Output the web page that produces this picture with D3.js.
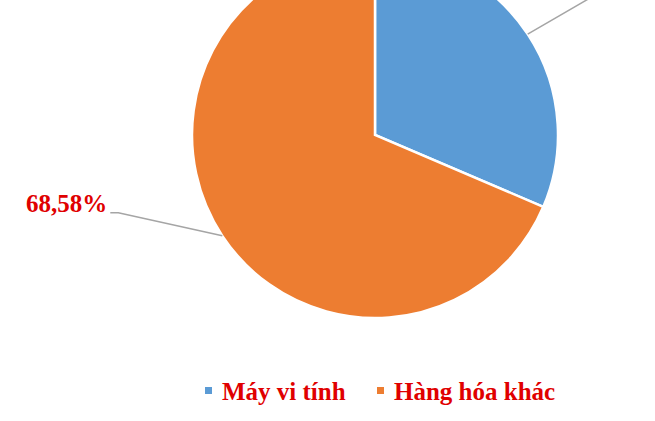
<!DOCTYPE html>
<html>
<head>
<meta charset="utf-8">
<script src="https://d3js.org/d3.v7.min.js"></script>
<style>
body { margin: 0; background: #fff; }
</style>
</head>
<body>
<script>
// chart data
var categories = ["Máy vi tính", "Hàng hóa khác"];
var values = [31.42, 68.58];
var labels = ["31,42%", "68,58%"];
var colors = ["#5B9BD5", "#ED7D31"];

var width = 655, height = 421;
var cx = 375, cy = 135, radius = 183;

var svg = d3.select("body").append("svg")
	.attr("width", width)
	.attr("height", height);

var g = svg.append("g")
	.attr("transform", "translate(" + cx + "," + cy + ")");

var pie = d3.pie().sort(null).value(function(d) { return d; });
var arcs = pie(values);

var arc = d3.arc().innerRadius(0).outerRadius(radius);

g.selectAll("path.slice")
	.data(arcs)
	.enter().append("path")
	.attr("class", "slice")
	.attr("d", arc)
	.attr("fill", function(d, i) { return colors[i]; })
	.attr("stroke", "#fff")
	.attr("stroke-width", 2.5);

// leader lines + labels (the top one sits above the visible area, as in the source crop)
function pt(a, r) { return [r * Math.sin(a), -r * Math.cos(a)]; }

arcs.forEach(function(d, i) {
	var mid = (d.startAngle + d.endAngle) / 2;
	var p0 = pt(mid, radius);
	var right = Math.sin(mid) > 0;
	var p1, p2, tx;
	if (right) {
		p1 = [p0[0] + 100, p0[1] - 58];
		p2 = [p1[0] + 8, p1[1]];
		tx = p2[0] + 3;
	} else {
		p1 = [p0[0] - 104, p0[1] - 23];
		p2 = [p1[0] - 8, p1[1]];
		tx = p2[0] - 3;
	}
	g.append("polyline")
		.attr("points", [p0, p1, p2].map(function(p) { return p.join(","); }).join(" "))
		.attr("fill", "none")
		.attr("stroke", "#A5A5A5")
		.attr("stroke-width", 1.5);
	g.append("text")
		.attr("x", tx)
		.attr("y", p2[1] - 1)
		.attr("text-anchor", right ? "start" : "end")
		.attr("font-family", "'Liberation Serif', 'Times New Roman', serif")
		.attr("font-weight", "bold")
		.attr("font-size", 25)
		.attr("fill", "#E00000")
		.text(labels[i]);
});

// legend
var legend = svg.append("g").attr("transform", "translate(205,391)");
var lx = [0, 172];
categories.forEach(function(c, i) {
	var item = legend.append("g").attr("transform", "translate(" + lx[i] + ",0)");
	item.append("rect")
		.attr("x", 0).attr("y", -4)
		.attr("width", 7).attr("height", 7)
		.attr("fill", colors[i]);
	item.append("text")
		.attr("x", 17)
		.attr("y", 9)
		.attr("font-family", "'Liberation Serif', 'Times New Roman', serif")
		.attr("font-weight", "bold")
		.attr("font-size", 25)
		.attr("fill", "#E00000")
		.text(c);
});
</script>
</body>
</html>
